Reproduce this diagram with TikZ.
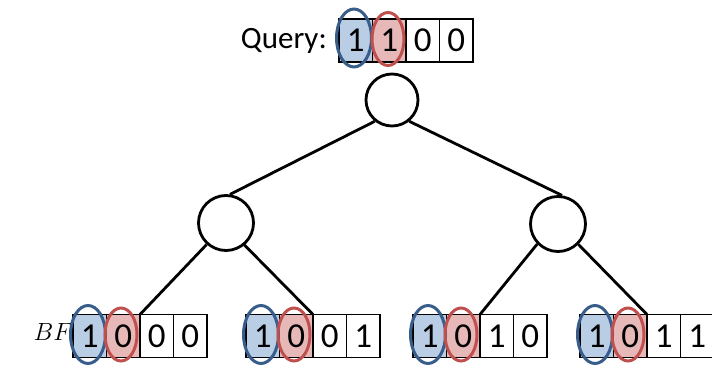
\documentclass[tikz,border=0pt]{standalone}
\usepackage{fontspec}
\setmainfont{Carlito}
\usetikzlibrary{shapes.geometric}
\definecolor{bstroke}{HTML}{385D8A}
\definecolor{bfill}{HTML}{B9CDE5}
\definecolor{rstroke}{HTML}{C0504D}
\definecolor{rfill}{HTML}{E6B9B8}
\begin{document}
\begin{tikzpicture}[x=1pt,y=-1pt,
  cell/.style={draw=black, line width=1.5pt, minimum width=33.5pt, minimum height=43pt,
    inner sep=0pt, outer sep=0pt, font=\fontsize{35}{35}\selectfont, anchor=center},
  bcell/.style={cell, fill=bfill},
  rcell/.style={cell, fill=rfill},
  bring/.style={ellipse, draw=bstroke, line width=3pt, minimum width=35pt,
    minimum height=58pt, inner sep=0pt},
  rring/.style={ellipse, draw=rstroke, line width=3pt, minimum width=32pt,
    minimum height=53pt, inner sep=0pt},
  tnode/.style={circle, draw=black, line width=2.8pt, inner sep=0pt},
  edge/.style={line width=2.8pt}]
\useasboundingbox (0,0) rectangle (712,366);

% query
\node[anchor=east, inner sep=0pt, font=\fontsize{31}{31}\selectfont] (qlabel) at (327,41) {Query:};
\node[bcell] (qa) at (355.75,40.5) {1};
\node[rcell] (qb) at (389.25,40.5) {1};
\node[cell]  (qc) at (422.75,40.5) {0};
\node[cell]  (qd) at (456.25,40.5) {0};
\node[bring] (qbe) at (354,38) {};
\node[rring] (qre) at (388,39) {};

% tree nodes
\node[tnode, minimum size=52pt] (root) at (392,100) {};
\node[tnode, minimum size=55pt] (m1) at (226,223) {};
\node[tnode, minimum size=55pt] (m2) at (558,224) {};

% BF label
\node[font=\fontsize{24}{24}\selectfont, inner sep=0pt] (bf) at (53,332) {$BF$};

% leaves
\foreach \k/\L/\da/\db/\dc/\dd in {1/73/1/0/0/0, 2/246/1/0/0/1, 3/413/1/0/1/0, 4/580/1/0/1/1}{
  \node[bcell] (l\k a) at (\L+16.75,336) {\da};
  \node[rcell] (l\k b) at (\L+50.25,336) {\db};
  \node[cell]  (l\k c) at (\L+83.75,336) {\dc};
  \node[cell]  (l\k d) at (\L+117.25,336) {\dd};
  \node[bring] (l\k be) at (\L+15,334.5) {};
  \node[rring] (l\k re) at (\L+48,334.5) {};
}

% edges
\draw[edge] (root.231) -- (m1.82);
\draw[edge] (root.309) -- (m2.82);
\draw[edge] (m1.228) -- (l1b.north east);
\draw[edge] (m1.310) -- (l2b.north east);
\draw[edge] (m2.224) -- (l3b.north east);
\draw[edge] (m2.315) -- (l4b.north east);
\end{tikzpicture}
\end{document}
